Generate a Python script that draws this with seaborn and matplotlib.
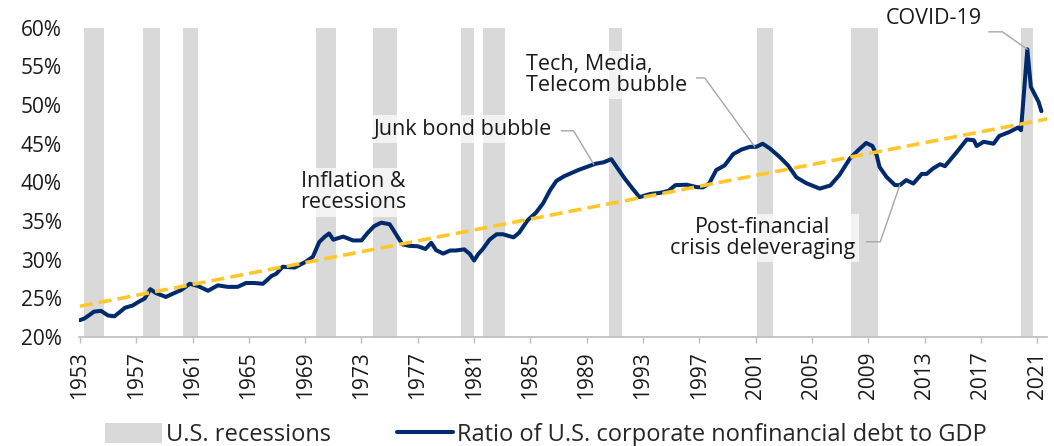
import numpy as np
import pandas as pd
import seaborn as sns
import matplotlib.pyplot as plt
from matplotlib.patches import Patch
from matplotlib.lines import Line2D

# ratio of corporate nonfinancial debt to GDP (%)
years = [1953.0, 1953.3, 1953.7, 1954.0, 1954.5, 1955.0, 1955.45, 1955.8, 1956.2, 1956.75,
         1957.2, 1957.6, 1958.0, 1958.4, 1959.1, 1959.7, 1960.2, 1960.8, 1961.4, 1962.1,
         1962.8, 1963.5, 1964.2, 1964.8, 1965.4, 1966.0, 1966.6, 1966.95, 1967.4, 1968.25,
         1969.0, 1969.55, 1970.0, 1970.4, 1970.7, 1971.0, 1971.7, 1972.4, 1973.0, 1973.45,
         1973.9, 1974.4, 1975.0, 1975.35, 1975.9, 1976.4, 1977.0, 1977.55, 1977.95, 1978.3,
         1978.8, 1979.3, 1979.7, 1980.3, 1980.7, 1981.0, 1981.3, 1981.6, 1982.1, 1982.6,
         1983.05, 1983.8, 1984.2, 1984.8, 1985.4, 1985.9, 1986.4, 1986.85, 1987.4, 1987.9,
         1988.4, 1989.0, 1989.6, 1990.2, 1990.75, 1991.2, 1991.7, 1992.3, 1992.75, 1993.5,
         1994.2, 1994.8, 1995.3, 1996.1, 1996.8, 1997.25, 1997.7, 1998.2, 1998.8, 1999.4,
         2000.0, 2000.6, 2001.05, 2001.5, 2002.0, 2002.7, 2003.3, 2003.9, 2004.6, 2005.55,
         2006.3, 2006.95, 2007.7, 2008.25, 2008.85, 2009.3, 2009.6, 2009.8, 2010.3, 2010.9,
         2011.25, 2011.7, 2012.2, 2012.8, 2013.15, 2013.6, 2014.1, 2014.45, 2015.3, 2016.0,
         2016.5, 2016.7, 2017.2, 2017.9, 2018.3, 2019.0, 2019.65, 2019.85, 2020.0, 2020.3,
         2020.55, 2020.85, 2021.1, 2021.3]
ratio = [22.2, 22.4, 22.9, 23.3, 23.4, 22.8, 22.7, 23.2, 23.8, 24.1,
         24.6, 25.0, 26.2, 25.7, 25.2, 25.7, 26.1, 26.9, 26.6, 26.0,
         26.7, 26.5, 26.5, 27.0, 27.0, 26.9, 27.9, 28.2, 29.1, 29.0,
         29.7, 30.4, 32.3, 33.0, 33.4, 32.6, 33.0, 32.5, 32.5, 33.5,
         34.35, 34.8, 34.6, 33.6, 32.0, 31.8, 31.75, 31.4, 32.2, 31.25,
         30.8, 31.2, 31.2, 31.35, 30.75, 29.9, 30.75, 31.35, 32.6, 33.3,
         33.3, 32.9, 33.5, 35.1, 36.1, 37.3, 39.0, 40.2, 40.8, 41.2,
         41.6, 42.0, 42.4, 42.6, 43.0, 41.8, 40.5, 39.1, 38.1, 38.5,
         38.65, 38.9, 39.65, 39.7, 39.4, 39.35, 39.85, 41.6, 42.2, 43.65,
         44.25, 44.6, 44.6, 45.0, 44.4, 43.3, 42.2, 40.65, 39.9, 39.2,
         39.6, 40.95, 43.1, 44.1, 45.1, 44.7, 43.5, 42.0, 40.7, 39.65,
         39.65, 40.3, 39.85, 41.1, 41.1, 41.8, 42.35, 42.1, 43.95, 45.55,
         45.45, 44.7, 45.25, 45.0, 46.0, 46.5, 47.1, 46.75, 50.2, 57.2,
         52.35, 51.3, 50.4, 49.2]

trend_years = [1953, 2022]
trend_ratio = [24.0, 48.3]

rec_start = [1953.3, 1957.5, 1960.3, 1969.8, 1973.8, 1980.1, 1981.6, 1990.55, 2001.1, 2007.8, 2019.85]
rec_end = [1954.7, 1958.7, 1961.4, 1971.2, 1975.5, 1981.0, 1983.2, 1991.5, 2002.2, 2009.7, 2020.7]

tick_years = list(range(1953, 2022, 4))
pct_ticks = list(range(20, 61, 5))

navy = '#002A6C'
gold = '#FFC72C'
grey_bar = '#D9D9D9'
leader = '#A6A6A6'

sns.set_theme(style='white')
plt.rcParams['font.family'] = ['Open Sans', 'DejaVu Sans']

fig, ax = plt.subplots(figsize=(10.54, 4.46), dpi=100)
fig.subplots_adjust(left=0.0745, right=0.9934, top=0.938, bottom=0.244)

for s, e in zip(rec_start, rec_end):
    ax.axvspan(s, e, color=grey_bar, lw=0, zorder=0)

df = pd.DataFrame({'year': years, 'ratio': ratio})
sns.lineplot(data=df, x='year', y='ratio', color=navy, lw=2.9, ax=ax, zorder=3)
trend = pd.DataFrame({'year': trend_years, 'ratio': trend_ratio})
sns.lineplot(data=trend, x='year', y='ratio', color=gold, lw=2.6, ax=ax, zorder=4)
ax.lines[-1].set_dashes([3.6, 1.7])

ax.set_xlim(1952.9, 2021.7)
ax.set_ylim(20, 60)
ax.set_xticks(tick_years)
ax.set_xticklabels([str(y) for y in tick_years], rotation=90, fontsize=15)
ax.set_yticks(pct_ticks)
ax.set_yticklabels([f'{p}%' for p in pct_ticks], fontsize=15)
ax.set_xlabel('')
ax.set_ylabel('')
sns.despine(ax=ax, left=True)
ax.spines['bottom'].set_color('#BFBFBF')
ax.tick_params(axis='x', length=4.3, width=1, color='#BFBFBF', pad=6, bottom=True)
ax.tick_params(axis='y', length=0, pad=12)
for lab in ax.get_xticklabels() + ax.get_yticklabels():
    lab.set_color('#1a1a1a')

box = dict(boxstyle='square,pad=0.15', fc='white', ec='none', alpha=0.7)
txt = dict(fontsize=15.5, color='#1a1a1a', linespacing=1.0, bbox=box, zorder=5)
ax.text(1972.4, 38.7, 'Inflation &\nrecessions', ha='center', va='center', **txt)
ax.text(1980.2, 46.9, 'Junk bond bubble', ha='center', va='center', **txt)
ax.text(1984.7, 53.9, 'Tech, Media,\nTelecom bubble', ha='left', va='center', **txt)
ax.text(2001.5, 32.8, 'Post-financial\ncrisis deleveraging', ha='center', va='center', **txt)
ax.text(2013.65, 61.2, 'COVID-19', ha='center', va='center', clip_on=False, **txt)


def leader_line(x0, y0, x1, angle):
    y1 = np.interp(x1, years, ratio)
    ax.annotate('', xy=(x1, y1), xytext=(x0, y0),
                arrowprops=dict(arrowstyle='-', color=leader, lw=1, shrinkA=0, shrinkB=0,
                                connectionstyle=f'angle,angleA=0,angleB={angle},rad=0'),
                zorder=4)


leader_line(1987.2, 46.67, 1989.5, -59)
leader_line(1996.8, 53.5, 2000.94, -54)
leader_line(2008.88, 32.33, 2011.24, 71)
peak = int(np.argmax(ratio))
leader_line(2017.57, 59.46, years[peak], -35)

handles = [Patch(facecolor=grey_bar, edgecolor='none'),
           Line2D([0], [0], color=navy, lw=2.9)]
fig.legend(handles, ['U.S. recessions', 'Ratio of U.S. corporate nonfinancial debt to GDP'],
           loc='lower center', bbox_to_anchor=(0.518, -0.05), ncol=2, frameon=False,
           fontsize=17, handlelength=2.4, handleheight=0.9, columnspacing=2.8, handletextpad=0.15)

fig.savefig('out.png', dpi=100)
